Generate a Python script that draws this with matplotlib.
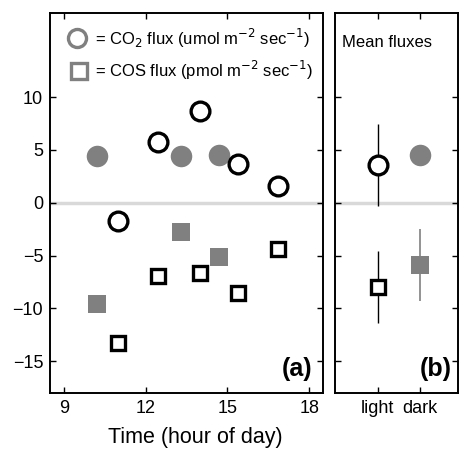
import matplotlib
matplotlib.use('Agg')
import matplotlib.pyplot as plt

plt.rcParams['font.family'] = ['Liberation Sans', 'DejaVu Sans']

# панель (a): измерения днём (light) и в темноте (dark)
co2_light_t = [11.0, 12.45, 14.0, 15.4, 16.85]
co2_light = [-1.75, 5.75, 8.7, 3.65, 1.6]
co2_dark_t = [10.2, 13.3, 14.7]
co2_dark = [4.45, 4.45, 4.5]

cos_light_t = [11.0, 12.45, 14.0, 15.4, 16.85]
cos_light = [-13.3, -6.9, -6.7, -8.55, -4.4]
cos_dark_t = [10.2, 13.3, 14.7]
cos_dark = [-9.55, -2.8, -5.15]

# панель (b): средние значения
groups = ['light', 'dark']
co2_mean = [3.6, 4.5]
co2_err = [3.9, 0.0]
cos_mean = [-8.0, -5.9]
cos_err = [3.4, 3.4]

x_ticks = [9, 12, 15, 18]
y_ticks = [-15, -10, -5, 0, 5, 10]

gray = '#808080'

fig = plt.figure(figsize=(4.6, 4.51), dpi=100)
ax1 = fig.add_axes([0.109, 0.129, 0.593, 0.843])
ax2 = fig.add_axes([0.728, 0.129, 0.267, 0.843])

for ax in (ax1, ax2):
    ax.axhline(0, color='#d9d9d9', lw=2.5, zorder=0)
    ax.set_ylim(-18, 18)
    ax.set_yticks(y_ticks)
    ax.tick_params(direction='in', length=4, width=1, top=True, right=True,
                   labelsize=13, pad=5)
    for s in ax.spines.values():
        s.set_linewidth(1.4)

# (a)
ax1.plot(co2_dark_t, co2_dark, 'o', color=gray, ms=15.5, mew=0)
ax1.plot(co2_light_t, co2_light, 'o', mfc='white', mec='black', ms=13.5, mew=2.4)
ax1.plot(cos_dark_t, cos_dark, 's', color=gray, ms=13, mew=0)
ax1.plot(cos_light_t, cos_light, 's', mfc='white', mec='black', ms=10, mew=2.4)
ax1.set_xlim(8.5, 18.5)
ax1.set_xticks(x_ticks)
ax1.set_xlabel('Time (hour of day)', fontsize=15.5)
ax1.xaxis.set_label_coords(0.531, -0.09)

# легенда вручную
ax1.plot([9.5], [15.6], 'o', mfc='white', mec=gray, ms=13, mew=2.4)
ax1.text(10.15, 15.6, '= CO$_2$ flux (umol m$^{-2}$ sec$^{-1}$)', fontsize=12,
         va='center', ha='left')
ax1.plot([9.55], [12.5], 's', mfc='white', mec=gray, ms=11, mew=2.4)
ax1.text(10.15, 12.5, '= COS flux (pmol m$^{-2}$ sec$^{-1}$)', fontsize=12,
         va='center', ha='left')
ax1.text(0.96, 0.03, '(a)', transform=ax1.transAxes, ha='right', va='bottom',
         fontsize=18, fontweight='bold')

# (b)
xb = [1, 2]
ax2.errorbar(xb[0], co2_mean[0], yerr=co2_err[0], fmt='o', mfc='white', mec='black',
             ms=13.5, mew=2.4, ecolor='black', elinewidth=1, capsize=0)
ax2.plot(xb[1], co2_mean[1], 'o', color=gray, ms=15.5, mew=0)
ax2.errorbar(xb[0], cos_mean[0], yerr=cos_err[0], fmt='s', mfc='white', mec='black',
             ms=10, mew=2.4, ecolor='black', elinewidth=1, capsize=0)
ax2.errorbar(xb[1], cos_mean[1], yerr=cos_err[1], fmt='s', color=gray, mec=gray,
             ms=13, mew=0, ecolor=gray, elinewidth=1.2, capsize=0)
ax2.set_xlim(-0.02, 2.9)
ax2.set_xticks(xb)
ax2.set_xticklabels(groups)
ax2.set_yticklabels([])
ax2.text(0.06, 0.921, 'Mean fluxes', transform=ax2.transAxes, fontsize=12,
         ha='left', va='center')
ax2.text(0.95, 0.03, '(b)', transform=ax2.transAxes, ha='right', va='bottom',
         fontsize=18, fontweight='bold')

fig.savefig('out.png', dpi=100)
